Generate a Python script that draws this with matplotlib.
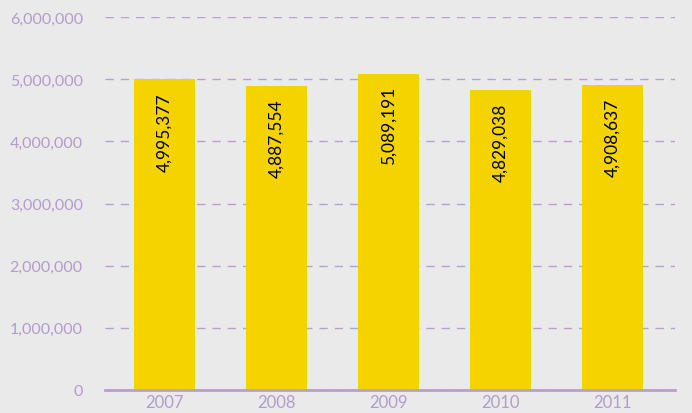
import matplotlib
matplotlib.use("Agg")
import matplotlib.pyplot as plt
from matplotlib.ticker import FuncFormatter

years = ["2007", "2008", "2009", "2010", "2011"]
values = [4995377, 4887554, 5089191, 4829038, 4908637]
yticks = [0, 1000000, 2000000, 3000000, 4000000, 5000000, 6000000]

bg = "#eaeaea"
purple = "#b7a0cc"
text_purple = "#b39ccb"
bar_color = "#f5d300"

fig = plt.figure(figsize=(6.92, 4.14), dpi=100, facecolor=bg)
ax = fig.add_axes([105/692, 1 - 391/414, 570/692, (391-18)/414])
ax.set_facecolor(bg)

x = range(len(years))
bars = ax.bar(x, values, width=0.545, color=bar_color, zorder=2)
for xi, v in zip(x, values):
    ax.text(xi, v - 200000, f"{v:,}", rotation=90, ha="center", va="top",
            fontsize=12.5, color="black", family="Lato", zorder=3)

ax.set_xlim(-0.531, 4.558)
ax.set_ylim(0, 6000000)
ax.set_yticks(yticks)
ax.yaxis.set_major_formatter(FuncFormatter(lambda v, p: f"{int(v):,}"))
ax.set_xticks(list(x))
ax.set_xticklabels(years)
ax.tick_params(axis="both", length=0, colors=text_purple, labelsize=11.5)
ax.tick_params(axis="x", labelsize=12)
ax.tick_params(axis="y", pad=16)
ax.tick_params(axis="x", pad=3)
for lab in ax.get_xticklabels() + ax.get_yticklabels():
    lab.set_family("Lato")

ax.grid(axis="y", color=purple, linestyle=(0, (6, 5)), linewidth=1, zorder=1)
for s in ["top", "right", "left"]:
    ax.spines[s].set_visible(False)
ax.spines["bottom"].set_color(purple)
ax.spines["bottom"].set_linewidth(2)
ax.spines["bottom"].set_zorder(4)

fig.savefig("out.png", dpi=100, facecolor=bg)
